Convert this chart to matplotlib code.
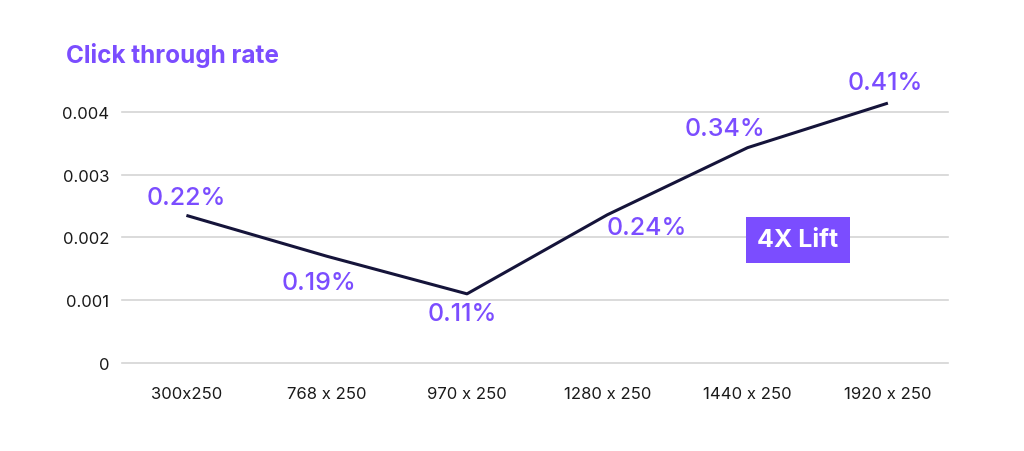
import matplotlib
matplotlib.use("Agg")
import matplotlib.pyplot as plt

# data
sizes = ["300x250", "768 x 250", "970 x 250", "1280 x 250", "1440 x 250", "1920 x 250"]
ctr = [0.00235, 0.0017, 0.0011, 0.00236, 0.00343, 0.00414]
ctr_labels = ["0.22%", "0.19%", "0.11%", "0.24%", "0.34%", "0.41%"]
y_ticks = [0, 0.001, 0.002, 0.003, 0.004]
y_tick_labels = ["0", "0.001", "0.002", "0.003", "0.004"]

purple = "#7b4dff"
navy = "#15143a"

plt.rcParams['font.family'] = ['Inter', 'DejaVu Sans']

fig = plt.figure(figsize=(10.24, 4.52), dpi=100)
ax = fig.add_axes([0.119, 0.195, 0.807, 0.583])

x = list(range(len(sizes)))
ax.plot(x, ctr, color=navy, lw=2.2, solid_capstyle='butt', zorder=3)

# label offsets in pixels (dx, dy) relative to each point
label_offsets = [(0, 18), (-8, -26), (-5, -20), (40, -13), (-23, 19), (-3, 21)]
for xi, yi, lab, (dx, dy) in zip(x, ctr, ctr_labels, label_offsets):
    ax.annotate(lab, (xi, yi), xytext=(dx * 0.72, dy * 0.72), textcoords='offset points',
                ha='center', va='center', color=purple, fontsize=18, fontweight='medium')

ax.text(4.36, 0.00196, "4X Lift", color='white', fontsize=18, fontweight='bold',
        ha='center', va='center',
        bbox=dict(boxstyle='square,pad=0.45', fc=purple, ec='none'))

ax.set_xlim(-0.46, 5.43)
ax.set_ylim(0, 0.0042)
ax.set_yticks(y_ticks)
ax.set_yticklabels(y_tick_labels)
ax.set_xticks(x)
ax.set_xticklabels(sizes)
ax.tick_params(axis='both', length=0, labelsize=12, colors='#1a1a1a')
ax.tick_params(axis='y', pad=9)
ax.tick_params(axis='x', pad=17)
for s in ax.spines.values():
    s.set_visible(False)
for t in y_ticks:
    ax.axhline(t, color='#d4d4d4', lw=1.2, zorder=1, clip_on=False)

fig.text(0.064, 0.878, "Click through rate", color=purple, fontsize=17.5, fontweight='bold',
         ha='left', va='center')

fig.savefig("out.png", dpi=100, facecolor='white')
